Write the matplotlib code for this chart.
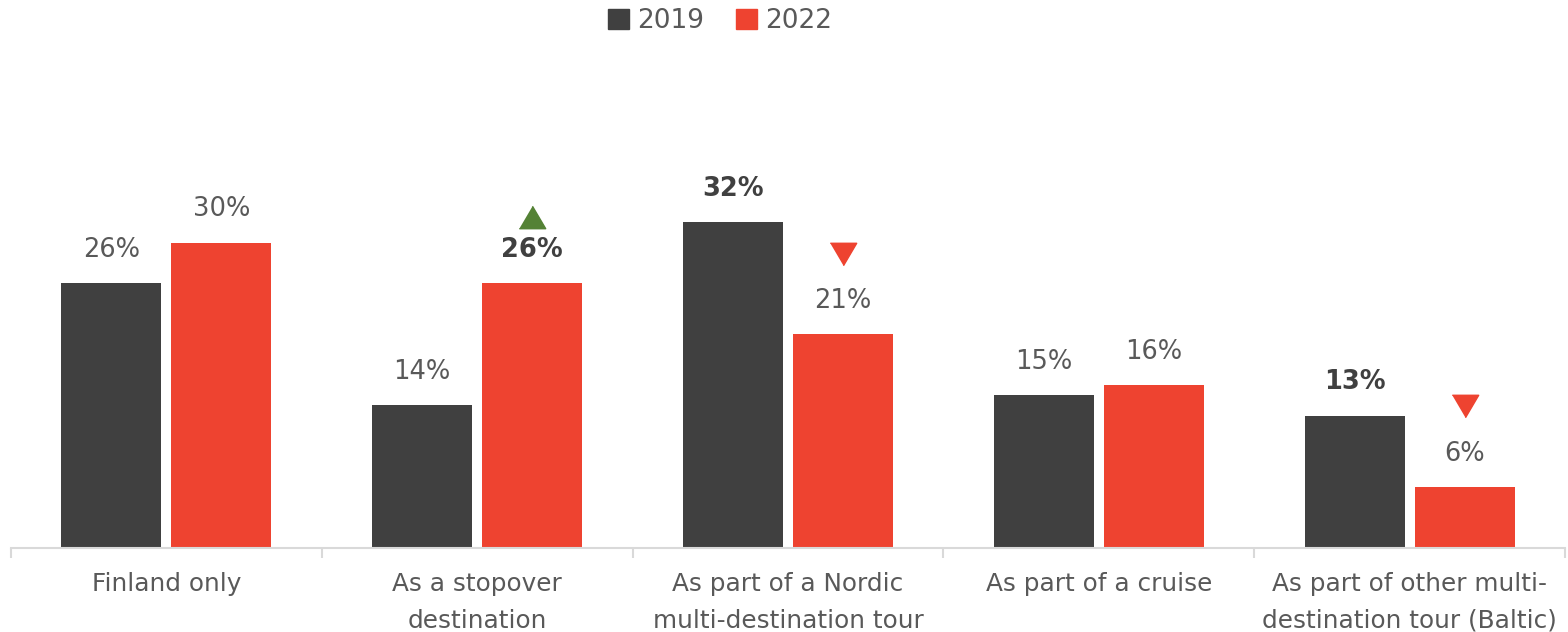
import matplotlib
matplotlib.use("Agg")
import matplotlib.pyplot as plt
from matplotlib.patches import Patch
from matplotlib.transforms import offset_copy
import numpy as np

categories = ["Finland only", "As a stopover\ndestination", "As part of a Nordic\nmulti-destination tour",
              "As part of a cruise", "As part of other multi-\ndestination tour (Baltic)"]
series_names = ["2019", "2022"]
values_2019 = [26, 14, 32, 15, 13]
values_2022 = [30, 26, 21, 16, 6]
bold_2019 = [False, False, True, False, True]
bold_2022 = [False, True, False, False, False]
# change indicator on 2022 bars: 1 = significant increase, -1 = significant decrease, 0 = none
change_2022 = [0, 1, -1, 0, -1]

DARK = "#404040"
RED = "#EE4330"
GREEN = "#548235"
TEXT = "#595959"

plt.rcParams['font.family'] = ['DejaVu Sans']

fig = plt.figure(figsize=(15.68, 6.32), dpi=100)
ax = fig.add_axes([11/1568, (632-548)/632, 1554/1568, 448/632])

x = np.arange(len(categories))
w = 0.322
off = 0.177
ax.bar(x - off, values_2019, w, color=DARK)
ax.bar(x + off, values_2022, w, color=RED)

ax.set_xlim(-0.5, len(categories) - 0.5)
ax.set_ylim(0, 44.0)

for xi, v, b in zip(x - off, values_2019, bold_2019):
    ax.annotate(f"{v}%", (xi, v), xytext=(0, 24), textcoords="offset points",
                ha="center", va="center", fontsize=18.5,
                fontweight="bold" if b else "normal", color=DARK if b else TEXT)

up_tr = offset_copy(ax.transData, fig=fig, x=0, y=48, units="points")
dn_tr = offset_copy(ax.transData, fig=fig, x=0, y=58, units="points")
up_m = [(-1, -0.85), (1, -0.85), (0, 0.85)]
dn_m = [(-1, 0.85), (1, 0.85), (0, -0.85)]
for xi, v, b, c in zip(x + off, values_2022, bold_2022, change_2022):
    ax.annotate(f"{v}%", (xi, v), xytext=(0, 24), textcoords="offset points",
                ha="center", va="center", fontsize=18.5,
                fontweight="bold" if b else "normal", color=DARK if b else TEXT)
    if c > 0:
        ax.plot([xi], [v], marker=up_m, markersize=19, color=GREEN, linestyle="none",
                transform=up_tr, clip_on=False)
    elif c < 0:
        ax.plot([xi], [v], marker=dn_m, markersize=19, color=RED, linestyle="none",
                transform=dn_tr, clip_on=False)

for s in ["top", "right", "left"]:
    ax.spines[s].set_visible(False)
ax.spines["bottom"].set_color("#d9d9d9")
ax.spines["bottom"].set_linewidth(1.5)
ax.set_yticks([])

ax.set_xticks(x)
ax.set_xticklabels(categories, fontsize=17.8, color=TEXT, linespacing=1.68, va="top")
ax.tick_params(axis="x", length=0, pad=17)
ax.set_xticks(np.arange(-0.5, len(categories)), minor=True)
ax.tick_params(axis="x", which="minor", length=7, width=1.5, color="#d9d9d9")

handles = [Patch(color=DARK), Patch(color=RED)]
fig.legend(handles, series_names, loc="center", bbox_to_anchor=(720/1568, 1 - 21/632),
           ncol=2, frameon=False, fontsize=19, labelcolor=TEXT,
           handlelength=0.8, handleheight=0.8, handletextpad=0.3, columnspacing=1.2)

fig.savefig("out.png", dpi=100)
